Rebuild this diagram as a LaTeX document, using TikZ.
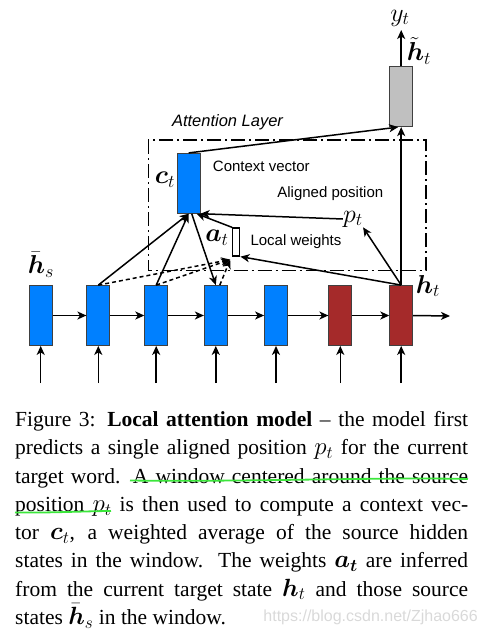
\documentclass[tikz,border=0pt]{standalone}
\usepackage{graphicx}
\usepackage{amsmath,bm}
\usepackage{fontspec}
\setmainfont{Liberation Serif}
\newfontfamily\arial{Liberation Sans}
\usetikzlibrary{arrows.meta,calc}
\definecolor{cblue}{RGB}{0,128,255}
\definecolor{cred}{RGB}{165,42,42}
\definecolor{cgray}{RGB}{192,192,192}
\definecolor{cgreen}{RGB}{60,230,60}
\newcommand{\lblmath}[1]{\scalebox{1.25}{$#1$}}
\newcommand{\capmath}[1]{\scalebox{1.2}{$#1$}}
\begin{document}
\begin{tikzpicture}[x=1pt,y=-1pt,
 cell/.style={draw=black!75,line width=0.8pt,minimum width=23pt,minimum height=60pt,inner sep=0pt},
 conn/.style={line width=1.5pt,-{Stealth[length=9pt,width=8pt,inset=2.5pt]}},
 dconn/.style={conn,dash pattern=on 4pt off 3pt},
 lab/.style={font=\arial\fontsize{15}{18}\selectfont,inner sep=0pt},
 mlab/.style={font=\fontsize{20}{24}\selectfont,inner sep=0pt},
 capline/.style={anchor=base west,inner sep=0pt,font=\fontsize{21.5}{28}\selectfont}]
\useasboundingbox (0,0) rectangle (488,633);
% attention layer frame
\draw[line width=1.5pt,dash pattern=on 14pt off 4pt on 2pt off 4pt] (148.3,140) rectangle (426,270.7);
% cells
\node[cell,fill=cblue] (b1) at (40.7,315.5) {};
\node[cell,fill=cblue] (b2) at (98.3,315.5) {};
\node[cell,fill=cblue] (b3) at (156.2,315.5) {};
\node[cell,fill=cblue] (b4) at (215.8,315.5) {};
\node[cell,fill=cblue] (b5) at (276,315.5) {};
\node[cell,fill=cred] (b6) at (340.3,315.5) {};
\node[cell,fill=cred] (b7) at (401.2,315.5) {};
\node[cell,fill=cblue] (ct) at (188.7,183.3) {};
\node[cell,fill=cgray] (g) at (401.2,96.7) {};
\node[draw,line width=1.2pt,fill=white,minimum width=7pt,minimum height=28pt,inner sep=0pt] (at) at (236.3,242) {};
% coordinates
\coordinate (out) at (450,316);
\coordinate (yt) at (401.2,30);
\foreach \i/\x in {1/40.7,2/98.3,3/156.2,4/215.8,5/276,6/340.3,7/401.2}{
  \coordinate (i\i) at (\x,383);
  \draw[conn] (i\i) -- (b\i.south);
}
\foreach \a/\b in {b1/b2,b2/b3,b3/b4,b4/b5,b5/b6,b6/b7}{
  \draw[conn] (\a.east) -- (\b.west);
}
\draw[conn] (b7.east) -- (out);
% labels
\node[mlab] (ylab) at (400,18) {\lblmath{y_t}};
\node[mlab] (htil) at (419,51) {\lblmath{\tilde{\bm h}_t}};
\node[mlab] (ctl) at (165,180) {\lblmath{\bm c_t}};
\node[mlab] (atl) at (217,238) {\lblmath{\bm a_t}};
\node[mlab] (pt) at (353,219) {\lblmath{p_t}};
\node[mlab] (hs) at (41,265) {\lblmath{\bar{\bm h}_s}};
\node[mlab] (htl) at (428,286) {\lblmath{\bm h_t}};
\node[lab,font=\arial\itshape\fontsize{16.5}{20}\selectfont] (att) at (227.5,122) {Attention Layer};
\node[lab] (cv) at (261.3,166.7) {Context vector};
\node[lab] (ap) at (330.3,193.3) {Aligned position};
\node[lab] (lw) at (296,241.7) {Local weights};
% attention connectors
\coordinate (aw) at ($(at.south west)+(-2,3)$);
\draw[dconn] (b2.north) -- (aw);
\draw[dconn] (b3.north) -- (aw);
\draw[dconn] ($(b4.north)+(4,0)$) -- (aw);
\draw[conn] (b2.north) -- (ct.south);
\draw[conn] (b3.north) -- (ct.south);
\draw[conn] ($(ct.south)+(3,0)$) -- (b4.north);
\draw[conn] (at.north west) -- ($(ct.south east)+(-4,0)$);
\draw[conn] (pt.west) -- (ct.south east);
\draw[conn] (b7.north) -- (pt.south east);
\draw[conn] (b7.north) -- (at.south east);
\draw[conn] (b7.north) -- (g.south);
\draw[conn] (ct.north) -- ($(g.south)+(-3,0)$);
\draw[conn] (g.north) -- (yt);
% caption
\node[capline] (c1) at (15,426.7) {\makebox[453pt][s]{Figure 3: \textbf{Local attention model} -- the model first}};
\node[capline] (c2) at (15,454.9) {\makebox[453pt][s]{predicts a single aligned position \capmath{p_t} for the current}};
\node[capline] (c3) at (15,483.2) {\makebox[453pt][s]{target word. A window centered around the source}};
\node[capline] (c4) at (15,511.4) {\makebox[453pt][s]{position \capmath{p_t} is then used to compute a context vec-}};
\node[capline] (c5) at (15,539.7) {\makebox[453pt][s]{tor \capmath{\bm c_t}, a weighted average of the source hidden}};
\node[capline] (c6) at (15,567.9) {\makebox[453pt][s]{states in the window. The weights \capmath{\bm{a_t}} are inferred}};
\node[capline] (c7) at (15,596.2) {\makebox[453pt][s]{from the current target state \capmath{\bm h_t} and those source}};
\node[capline] (c8) at (15,624.4) {states \capmath{\bar{\bm h}_s} in the window.};
\draw[cgreen,line width=1.8pt] (130,480.5) .. controls (250,482) and (380,477) .. (468,479);
\draw[cgreen,line width=1.8pt] (15,512.5) .. controls (50,513) and (90,511) .. (111,511);
\node[font=\arial\fontsize{16}{18}\selectfont,text=black!15,anchor=base east,inner sep=0pt] (wm) at (478,621) {https://blog.csdn.net/Zjhao666};
\end{tikzpicture}
\end{document}
